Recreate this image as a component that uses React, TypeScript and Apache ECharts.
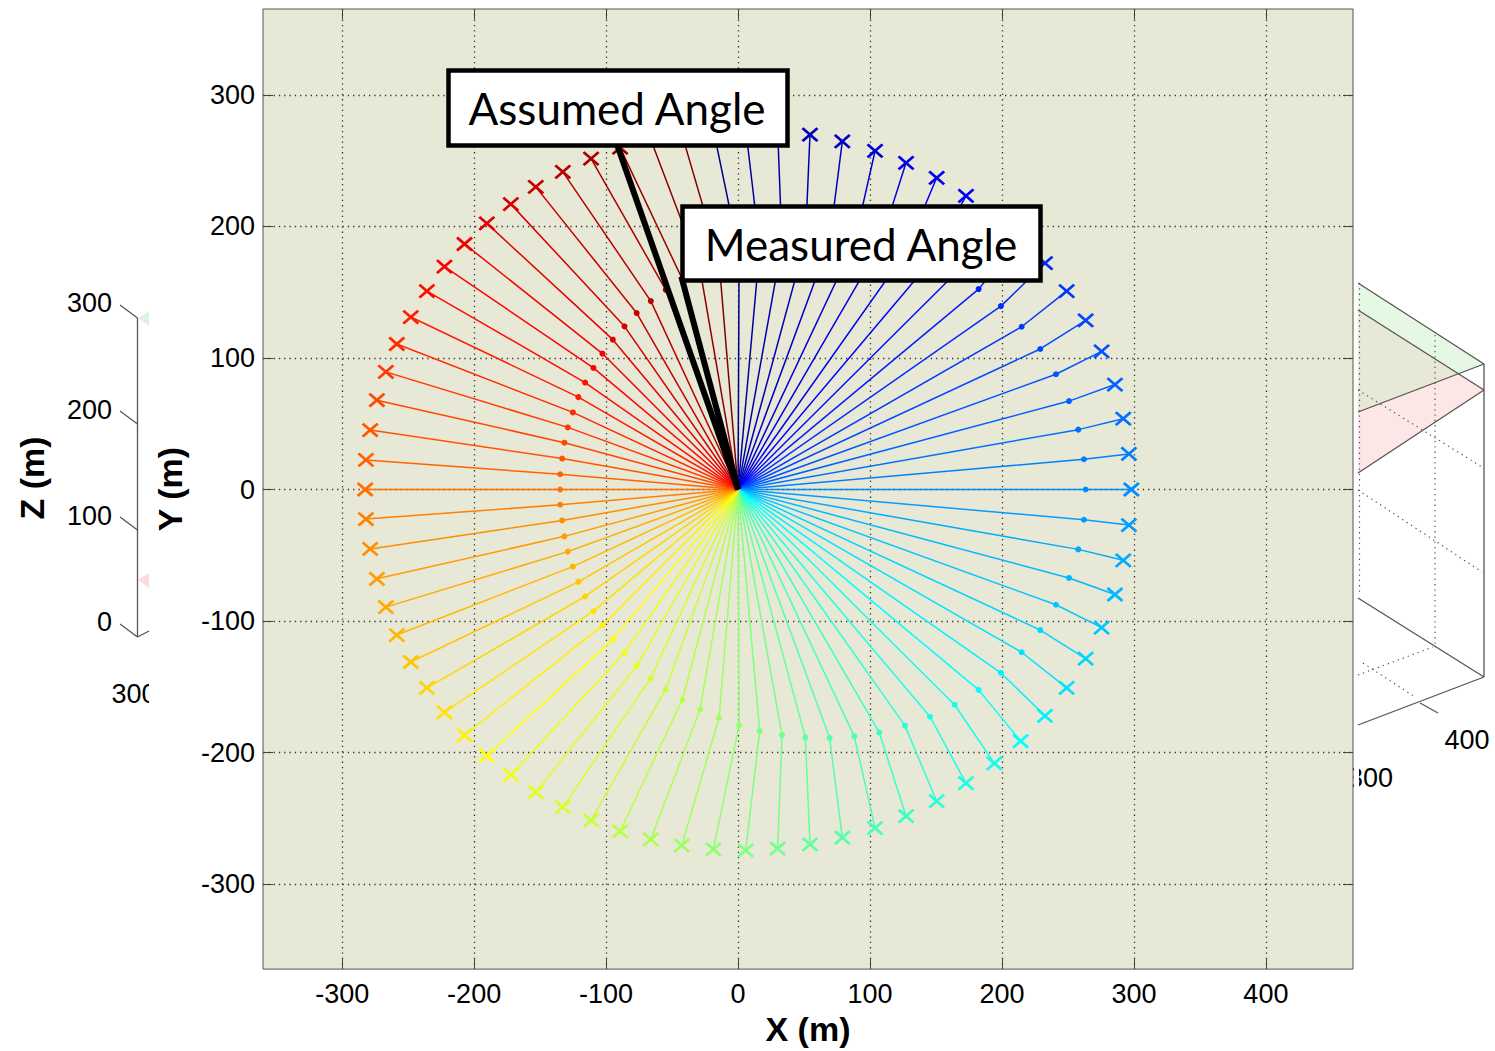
import React, { useEffect, useRef } from "react";
import * as echarts from "echarts";

// ---------- data (metres) ----------
const xTicks = [-300, -200, -100, 0, 100, 200, 300, 400];
const yTicks = [-300, -200, -100, 0, 100, 200, 300];
const zTickLabels = ["300", "200", "100", "0"];

const origin: [number, number] = [0, 0];

// intermediate points (dots), one per ray, clockwise starting at the ray pointing up
const innerPoints: [number, number][] = [
  [0.8, 179], [16.4, 183.6], [33.3, 186.6], [51, 188.4], [69.4, 188.9], [88.1, 187.6],
  [107, 184.6], [126.5, 179.5], [145.5, 172.7], [164.1, 163.6], [182.3, 152.3], [199.2, 139.4],
  [214.9, 123.7], [229, 106.8], [240.9, 87.6], [250.8, 67.2], [257.8, 45.5], [262.1, 23],
  [263.4, 0], [262.1, -23], [257.8, -45.5], [250.8, -67.2], [240.9, -87.6], [229, -106.8],
  [214.9, -123.7], [199.2, -139.4], [182.3, -152.3], [164.1, -163.6], [145.5, -172.7], [126.5, -179.5],
  [107, -184.6], [88.1, -187.6], [69.4, -188.9], [51, -188.4], [33.3, -186.6], [16.4, -183.6],
  [0.8, -179], [-14.4, -173.5], [-28.8, -167.2], [-42.2, -159.8], [-54.8, -151.8], [-66.1, -143.2],
  [-76.8, -134.1], [-86.1, -124], [-94.9, -113.9], [-102.8, -103.3], [-109.6, -92.4], [-115.9, -81.3],
  [-121, -70.2], [-125.2, -58.6], [-129, -47.2], [-131.6, -35.6], [-133.3, -23.5], [-134.8, -11.6],
  [-134.8, 0], [-134.8, 11.6], [-133.3, 23.5], [-131.6, 35.6], [-129, 47.2], [-125.2, 58.6],
  [-121, 70.2], [-115.9, 81.3], [-109.6, 92.4], [-102.8, 103.3], [-94.9, 113.9], [-86.1, 124],
  [-76.8, 134.1], [-66.1, 143.2], [-54.8, 151.8], [-42.2, 159.8], [-28.8, 167.2], [-14.4, 173.5],
];

// end points (crosses), same order
const outerPoints: [number, number][] = [
  [-18.7, 273.5], [5.8, 274.2], [30, 273], [54.5, 269.7], [79, 264.6], [103.8, 257.3],
  [127.3, 248.3], [150.5, 236.9], [172.7, 223.2], [194.2, 208.1], [214.1, 191.2], [232.6, 172],
  [249, 150.8], [263.4, 128.5], [275.5, 105], [285.6, 79.8], [291.9, 53.8], [296.2, 27],
  [298, 0], [296.2, -27], [291.9, -53.8], [285.6, -79.8], [275.5, -105], [263.4, -128.5],
  [249, -150.8], [232.6, -172], [214.1, -191.2], [194.2, -208.1], [172.7, -223.2], [150.5, -236.9],
  [127.3, -248.3], [103.8, -257.3], [79, -264.6], [54.5, -269.7], [30, -273], [5.8, -274.2],
  [-18.7, -273.5], [-42.7, -270.5], [-66.1, -265.9], [-89.4, -259.8], [-111.4, -251.5], [-132.8, -241.4],
  [-153.3, -230], [-172.2, -216.9], [-190.4, -202.3], [-207.3, -186.6], [-222.5, -169.4], [-235.8, -150.8],
  [-248, -131.1], [-258.6, -110.6], [-266.9, -89.4], [-273.7, -67.9], [-278.8, -45.2], [-282, -22.5],
  [-282.6, 0], [-282, 22.5], [-278.8, 45.2], [-273.7, 67.9], [-266.9, 89.4], [-258.6, 110.6],
  [-248, 131.1], [-235.8, 150.8], [-222.5, 169.4], [-207.3, 186.6], [-190.4, 202.3], [-172.2, 216.9],
  [-153.3, 230], [-132.8, 241.4], [-111.4, 251.5], [-89.4, 259.8], [-66.1, 265.9], [-42.7, 270.5],
];

// annotation pointer lines
const assumedLineEnd: [number, number] = [-92, 263];
const measuredLineEnd: [number, number] = [-43, 162];

// ---------- helpers ----------
function jet(m: number): string[] {
  const n = Math.ceil(m / 4);
  const u: number[] = [];
  for (let i = 1; i <= n; i++) u.push(i / n);
  for (let i = 1; i < n; i++) u.push(1);
  for (let i = n; i >= 1; i--) u.push(i / n);
  const g0 = Math.ceil(n / 2) - (m % 4 === 1 ? 1 : 0);
  const J = Array.from({ length: m }, () => [0, 0, 0]);
  for (let i = 0; i < u.length; i++) {
    const g = g0 + i + 1;
    const r = g + n;
    const b = g - n;
    if (r >= 1 && r <= m) J[r - 1][0] = u[i];
    if (g >= 1 && g <= m) J[g - 1][1] = u[i];
    if (b >= 1 && b <= m) J[b - 1][2] = u[i];
  }
  return J.map(
    ([r, g, b]) => `rgb(${Math.round(r * 255)},${Math.round(g * 255)},${Math.round(b * 255)})`
  );
}

const CROSS = "path://M0,0L10,10M10,0L0,10";
const FONT = "'Liberation Sans', Arial, sans-serif";
const BOX_FONT = "Lato, 'Open Sans', sans-serif";

function txt(text: string, x: number, y: number, size: number, align: string, opts: any = {}) {
  return {
    type: "text",
    x,
    y,
    rotation: opts.rotation || 0,
    z: opts.z ?? 5,
    silent: true,
    style: {
      x: 0,
      y: 0,
      text,
      fill: "#000",
      fontSize: size,
      fontFamily: opts.family || FONT,
      fontWeight: opts.weight || "normal",
      align,
      verticalAlign: "middle",
      textAlign: align,
      textVerticalAlign: "middle",
    },
  };
}

function seg(x1: number, y1: number, x2: number, y2: number, dotted = false, z = 1) {
  return {
    type: "line",
    z,
    silent: true,
    shape: { x1, y1, x2, y2 },
    style: {
      stroke: dotted ? "#555" : "#555",
      lineWidth: dotted ? 1.2 : 1.3,
      lineDash: dotted ? [1.3, 4] : null,
    },
  };
}

function poly(points: number[][], fill: string, z = 0) {
  return { type: "polygon", z, silent: true, shape: { points }, style: { fill } };
}

export default function App() {
  const ref = useRef<HTMLDivElement>(null);

  useEffect(() => {
    if (!ref.current) return;
    const chart = echarts.init(ref.current, undefined, { renderer: "svg" });
    const colors = jet(innerPoints.length);

    const raySeries = innerPoints.map((p, k) => ({
      type: "line",
      silent: true,
      z: 2,
      lineStyle: { color: colors[k], width: 1.5 },
      itemStyle: { color: colors[k] },
      data: [
        { value: origin, symbol: "none" },
        {
          value: p,
          symbol: "circle",
          symbolSize: 6,
          itemStyle: { color: colors[k], borderWidth: 0 },
        },
        {
          value: outerPoints[k],
          symbol: CROSS,
          symbolSize: [15, 13],
          itemStyle: { color: colors[k], borderColor: colors[k], borderWidth: 2.7 },
        },
      ],
    }));

    const pointerSeries = [assumedLineEnd, measuredLineEnd].map((end) => ({
      type: "line",
      silent: true,
      z: 4,
      symbol: "none",
      lineStyle: { color: "#000", width: 6 },
      data: [origin, end],
    }));

    const tickStyle = { color: "#444", width: 1 };
    const gridLine = { show: true, lineStyle: { color: "#333", width: 1.3, type: [1.3, 4] } };

    const graphic: any[] = [
      // ---- left partially-hidden 3D axis ----
      seg(137.5, 318, 137.5, 637),
      ...[318, 424, 530, 637].map((y) => seg(137.5, y, 120, y - 13)),
      seg(137.5, 637, 149, 631),
      poly([[138, 318], [149, 311], [149, 326]], "#DDF3DD"),
      poly([[138, 580], [149, 573], [149, 588]], "#FADCDC"),
      ...zTickLabels.map((t, i) => txt(t, 112, [303, 410, 516, 622][i], 27, "right")),
      txt("300", 134, 694, 27, "center"),
      { type: "rect", z: 10, silent: true, shape: { x: 149, y: 674, width: 40, height: 40 }, style: { fill: "#fff" } },
      txt("Z (m)", 32, 478, 34, "center", { weight: "bold", rotation: Math.PI / 2 }),

      // ---- right partially-hidden 3D box ----
      poly([[1358, 283], [1484, 364], [1358, 412]], "#E4F8E4"),
      poly([[1358, 310], [1484, 390], [1358, 473]], "#FCE6E6"),
      poly([[1358, 310], [1458, 374], [1358, 412]], "#E8E8D6"),
      seg(1359.5, 283, 1359.5, 593, true),
      seg(1435, 335, 1435, 648, true),
      seg(1358, 390, 1482, 467, true),
      seg(1358, 490, 1482, 572, true),
      seg(1358, 675, 1433, 647, true),
      seg(1363, 663, 1415, 697, true),
      seg(1358, 283, 1484, 364),
      seg(1358, 310, 1484, 390),
      seg(1358, 412, 1484, 364),
      seg(1358, 473, 1484, 390),
      seg(1484, 364, 1484, 677),
      seg(1358, 598, 1484, 677),
      seg(1358, 725, 1484, 677),
      seg(1420, 703, 1438, 713),
      txt("400", 1467, 740, 27, "center"),
      txt("300", 1393, 778, 27, "right", { z: -10 }),
      { type: "rect", z: -5, silent: true, shape: { x: 1354, y: 760, width: 5, height: 36 }, style: { fill: "#fff" } },

      // ---- annotation boxes ----
      {
        type: "rect",
        z: 20,
        silent: true,
        shape: { x: 448.5, y: 70.5, width: 339, height: 75 },
        style: { fill: "#fff", stroke: "#000", lineWidth: 4.5 },
      },
      txt("Assumed Angle", 617, 108, 44, "center", { family: BOX_FONT, z: 21 }),
      {
        type: "rect",
        z: 20,
        silent: true,
        shape: { x: 682.5, y: 206.5, width: 358, height: 74 },
        style: { fill: "#fff", stroke: "#000", lineWidth: 4.5 },
      },
      txt("Measured Angle", 861, 244, 44, "center", { family: BOX_FONT, z: 21 }),
    ];

    chart.setOption({
      animation: false,
      backgroundColor: "#fff",
      grid: {
        left: 263,
        top: 9,
        width: 1090,
        height: 963,
        show: true,
        backgroundColor: "#E8E8D6",
        borderColor: "#555",
        borderWidth: 1,
      },
      xAxis: [
        {
          type: "value",
          position: "bottom",
          min: -360,
          max: 466,
          name: "X (m)",
          nameLocation: "middle",
          nameGap: 42,
          nameTextStyle: { fontSize: 34, fontWeight: "bold", fontFamily: FONT, color: "#000" },
          axisLine: { show: false, onZero: false },
          axisTick: { show: true, inside: true, length: 10, customValues: xTicks, lineStyle: tickStyle },
          axisLabel: { customValues: xTicks, fontSize: 27, fontFamily: FONT, color: "#000", margin: 11 },
          splitLine: gridLine,
        },
        {
          type: "value",
          position: "top",
          min: -360,
          max: 466,
          axisLine: { show: false, onZero: false },
          axisTick: { show: true, inside: true, length: 10, customValues: xTicks, lineStyle: tickStyle },
          axisLabel: { show: false, customValues: xTicks },
          splitLine: { show: false },
        },
      ],
      yAxis: [
        {
          type: "value",
          position: "left",
          min: -364.5,
          max: 365.2,
          name: "Y (m)",
          nameLocation: "middle",
          nameGap: 76,
          nameRotate: 90,
          nameTextStyle: { fontSize: 34, fontWeight: "bold", fontFamily: FONT, color: "#000" },
          axisLine: { show: false, onZero: false },
          axisTick: { show: true, inside: true, length: 10, customValues: yTicks, lineStyle: tickStyle },
          axisLabel: { customValues: yTicks, fontSize: 27, fontFamily: FONT, color: "#000", margin: 8 },
          splitLine: gridLine,
        },
        {
          type: "value",
          position: "right",
          min: -364.5,
          max: 365.2,
          axisLine: { show: false, onZero: false },
          axisTick: { show: true, inside: true, length: 10, customValues: yTicks, lineStyle: tickStyle },
          axisLabel: { show: false, customValues: yTicks },
          splitLine: { show: false },
        },
      ],
      series: [...raySeries, ...pointerSeries],
      graphic,
    });

    return () => chart.dispose();
  }, []);

  return (
    <div
      ref={ref}
      style={{ position: "fixed", left: 0, top: 0, width: "1495px", height: "1051px" }}
    />
  );
}
